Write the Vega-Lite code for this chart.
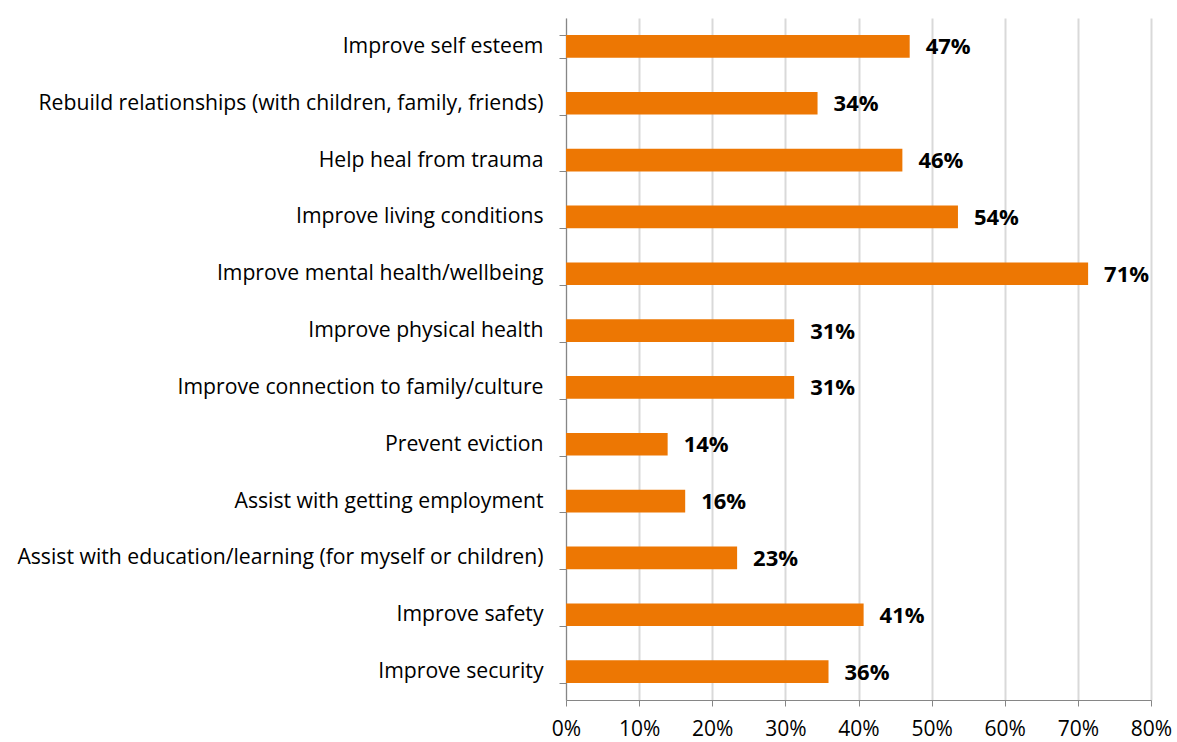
{
  "$schema": "https://vega.github.io/schema/vega-lite/v6.json",
  "width": 585,
  "height": 682,
  "autosize": {"type": "none"},
  "padding": {"left": 566, "top": 18, "right": 26, "bottom": 42},
  "background": "white",
  "config": {"view": {"stroke": null}, "font": "Open Sans"},
  "data": {
    "values": [
      {"item": "Improve self esteem", "pct": 0.47},
      {"item": "Rebuild relationships (with children, family, friends)", "pct": 0.344},
      {"item": "Help heal from trauma", "pct": 0.46},
      {"item": "Improve living conditions", "pct": 0.536},
      {"item": "Improve mental health/wellbeing", "pct": 0.714},
      {"item": "Improve physical health", "pct": 0.312},
      {"item": "Improve connection to family/culture", "pct": 0.312},
      {"item": "Prevent eviction", "pct": 0.139},
      {"item": "Assist with getting employment", "pct": 0.163},
      {"item": "Assist with education/learning (for myself or children)", "pct": 0.234},
      {"item": "Improve safety", "pct": 0.407},
      {"item": "Improve security", "pct": 0.359}
    ]
  },
  "encoding": {
    "y": {
      "field": "item", "type": "nominal", "sort": null, "title": null,
      "scale": {"paddingInner": 0.6, "paddingOuter": 0.3},
      "axis": {
        "tickBand": "extent", "domainColor": "#868686", "tickColor": "#868686",
        "tickSize": 7, "labelPadding": 16, "labelFontSize": 21.2, "labelColor": "#000000",
        "labelFont": "Open Sans", "labelLimit": 600, "grid": false
      }
    },
    "x": {
      "field": "pct", "type": "quantitative", "title": null,
      "scale": {"domain": [0, 0.8], "nice": false},
      "axis": {
        "format": ".0%", "values": [0, 0.1, 0.2, 0.3, 0.4, 0.5, 0.6, 0.7, 0.8],
        "grid": true, "gridColor": "#d9d9d9", "gridWidth": 2, "labelFlush": false,
        "domainColor": "#868686", "tickColor": "#868686", "tickSize": 6,
        "labelPadding": 12, "labelFontSize": 21, "labelColor": "#000000", "labelFont": "Open Sans"
      }
    }
  },
  "layer": [
    {"mark": {"type": "bar", "color": "#ED7703"}},
    {
      "mark": {"type": "text", "align": "left", "baseline": "middle", "dx": 16, "dy": 1, "fontSize": 22, "fontWeight": "bold", "color": "#000000", "font": "Open Sans"},
      "encoding": {"text": {"field": "pct", "type": "quantitative", "format": ".0%"}}
    }
  ]
}
